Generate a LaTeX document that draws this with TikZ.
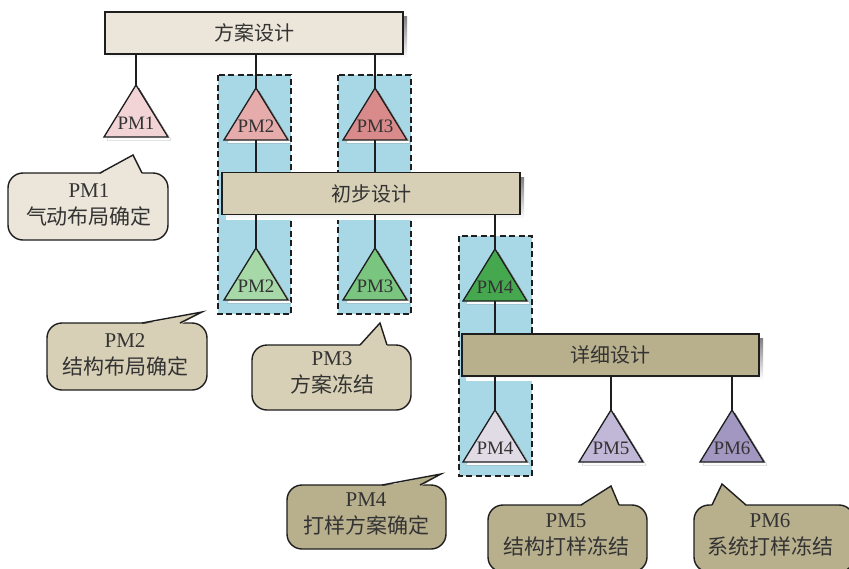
\documentclass[tikz,border=0pt]{standalone}
\usepackage{fontspec}
\setmainfont{Liberation Serif}
\newfontfamily\cjk{Noto Sans CJK SC}

\definecolor{txt}{HTML}{333333}
\definecolor{edge}{HTML}{1E1E1E}
\definecolor{shade}{HTML}{808080}
\definecolor{stageA}{HTML}{ECE6DA}
\definecolor{stageB}{HTML}{D8D0B6}
\definecolor{stageC}{HTML}{B8AF8D}
\definecolor{groupblue}{HTML}{A8D8E6}
\definecolor{pmA}{HTML}{F2D4D6}
\definecolor{pmB}{HTML}{E6ABAB}
\definecolor{pmC}{HTML}{D98A8A}
\definecolor{pmD}{HTML}{A6D8A8}
\definecolor{pmE}{HTML}{7AC680}
\definecolor{pmF}{HTML}{45A84E}
\definecolor{pmG}{HTML}{E1DBE6}
\definecolor{pmH}{HTML}{C1B7D7}
\definecolor{pmI}{HTML}{A297C1}

\tikzset{
  stagebox/.style={draw=edge, line width=1.3pt, fill=#1, minimum width=298pt,
    minimum height=42pt, inner sep=0pt, text=txt,
    font=\cjk\fontsize{20}{24}\selectfont},
  wire/.style={draw=edge, line width=1.1pt},
  grp/.style={draw=edge, fill=groupblue, line width=2pt, dash pattern=on 6pt off 3.5pt},
  tri/.style={draw=edge, line width=1.3pt, line join=miter},
  trilabel/.style={inner sep=0pt, text=txt, font=\fontsize{19}{20}\selectfont},
  bubble/.style={draw=edge, line width=1.4pt},
  bubtext/.style={inner sep=0pt, align=center, text=txt,
    font=\fontsize{21}{27}\selectfont}
}

% milestone triangle: name, apex x, apex y, fill, label
\newcommand\pmtri[5]{%
  \fill[shade] ({#2+3},{#3+3}) -- ({#2+35},{#3+55}) -- ({#2-29},{#3+55}) -- cycle;
  \draw[tri, fill=#4] (#2,#3) -- ({#2+32},{#3+52}) -- ({#2-32},{#3+52}) -- cycle;
  \coordinate (#1a) at (#2,#3);
  \coordinate (#1b) at (#2,{#3+52});
  \node[trilabel] (#1t) at (#2,{#3+38}) {#5};
}

% speech bubble: x1, y1, x2, y2, pointer base left, pointer base right, tip x, tip y, fill
\newcommand\callout[9]{%
  \draw[bubble, fill=#9, rounded corners=15pt] (#1,#2) rectangle (#3,#4);
  \fill[#9] ({#5-0.6},{#2+1.6}) -- (#7,#8) -- ({#6+0.6},{#2+1.6}) -- cycle;
  \draw[bubble, line join=miter] (#5,#2) -- (#7,#8) -- (#6,#2);
}

\begin{document}
\begin{tikzpicture}[x=1pt, y=-1pt]
\useasboundingbox (0,0) rectangle (849,568);
\clip (0,0) rectangle (849,568);
\fill[white] (0,0) rectangle (849,568);

% milestone groups
\draw[grp] (218,75) rectangle (291,314);
\draw[grp] (338,75) rectangle (411,314);
\draw[grp] (459,236) rectangle (532,476);

% stage bars (shadow first)
\fill[shade] (109,16) rectangle (407,58);
\fill[shade] (226,177) rectangle (524,219);
\fill[shade] (466,338) rectangle (763,380);

% milestones
\pmtri{p1}{136}{85}{pmA}{PM1}
\pmtri{p2}{256}{88}{pmB}{PM2}
\pmtri{p3}{375}{88}{pmC}{PM3}
\pmtri{q2}{256}{248}{pmD}{PM2}
\pmtri{q3}{375}{248}{pmE}{PM3}
\pmtri{q4}{495}{249}{pmF}{PM4}
\pmtri{r4}{495}{410}{pmG}{PM4}
\pmtri{r5}{611}{410}{pmH}{PM5}
\pmtri{r6}{732}{410}{pmI}{PM6}

\node[stagebox=stageA] (s1) at (254,33) {方案设计};
\node[stagebox=stageB] (s2) at (371,193.5) {初步设计};
\node[stagebox=stageC, minimum width=297pt] (s3) at (610.5,355) {详细设计};

% connectors
\draw[wire] (s1.south -| p1a) -- (p1a);
\draw[wire] (s1.south -| p2a) -- (p2a);
\draw[wire] (s1.south -| p3a) -- (p3a);
\draw[wire] (p2b) -- (s2.north -| p2b);
\draw[wire] (p3b) -- (s2.north -| p3b);
\draw[wire] (s2.south -| q2a) -- (q2a);
\draw[wire] (s2.south -| q3a) -- (q3a);
\draw[wire] (s2.south -| q4a) -- (q4a);
\draw[wire] (q4b) -- (s3.north -| q4b);
\draw[wire] (s3.south -| r4a) -- (r4a);
\draw[wire] (s3.south -| r5a) -- (r5a);
\draw[wire] (s3.south -| r6a) -- (r6a);

% callouts
\callout{8}{173}{168}{240}{100}{142}{133}{155}{stageA}
\node[bubtext] (c1) at (89,205) {PM1\\{\cjk 气动布局确定}};
\callout{47}{323}{207}{390}{142}{180}{202}{312}{stageB}
\node[bubtext] (c2) at (125,355) {PM2\\{\cjk 结构布局确定}};
\callout{252}{345}{411}{410}{360}{387}{380}{323}{stageB}
\node[bubtext] (c3) at (332,373) {PM3\\{\cjk 方案冻结}};
\callout{287}{485}{446}{549}{382}{420}{441}{474}{stageC}
\node[bubtext] (c4) at (366,514) {PM4\\{\cjk 打样方案确定}};
\callout{488}{505}{647}{572}{581}{619}{611}{486}{stageC}
\node[bubtext] (c5) at (566,535) {PM5\\{\cjk 结构打样冻结}};
\callout{694}{505}{854}{572}{712}{746}{722}{484}{stageC}
\node[bubtext] (c6) at (770,535) {PM6\\{\cjk 系统打样冻结}};
\end{tikzpicture}
\end{document}
